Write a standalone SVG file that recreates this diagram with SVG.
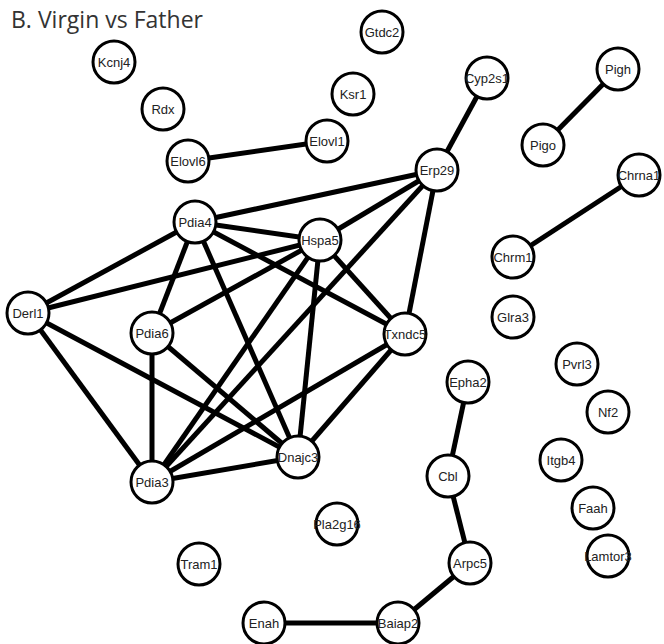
<svg xmlns="http://www.w3.org/2000/svg" width="664" height="644" viewBox="0 0 664 644">
<style>
.e{stroke:#000;stroke-width:5;fill:none;stroke-linecap:butt}
.n circle{fill:#fff;stroke:#000;stroke-width:3}
.n text{font-family:"Liberation Sans",Arial,sans-serif;font-size:13px;fill:#222;text-anchor:middle}
.t{font-family:"Open Sans","Liberation Sans",sans-serif;font-size:24px;fill:#333}
</style>
<rect width="664" height="644" fill="#fff"/>
<text class="t" x="11" y="28" textLength="192" lengthAdjust="spacingAndGlyphs">B. Virgin vs Father</text>
<g id="edges">
<line class="e" x1="188" y1="161" x2="327" y2="141"/>
<line class="e" x1="437" y1="170" x2="487" y2="78"/>
<line class="e" x1="543" y1="145" x2="618" y2="69"/>
<line class="e" x1="513" y1="257" x2="639" y2="175"/>
<line class="e" x1="468" y1="382" x2="448" y2="476"/>
<line class="e" x1="448" y1="476" x2="470" y2="563"/>
<line class="e" x1="470" y1="563" x2="398" y2="623"/>
<line class="e" x1="264" y1="623" x2="398" y2="623"/>
<line class="e" x1="195" y1="222" x2="437" y2="170"/>
<line class="e" x1="195" y1="222" x2="320" y2="240"/>
<line class="e" x1="195" y1="222" x2="28" y2="313"/>
<line class="e" x1="195" y1="222" x2="152" y2="333"/>
<line class="e" x1="195" y1="222" x2="405" y2="334"/>
<line class="e" x1="195" y1="222" x2="298" y2="457"/>
<line class="e" x1="320" y1="240" x2="437" y2="170"/>
<line class="e" x1="320" y1="240" x2="28" y2="313"/>
<line class="e" x1="320" y1="240" x2="152" y2="333"/>
<line class="e" x1="320" y1="240" x2="405" y2="334"/>
<line class="e" x1="320" y1="240" x2="152" y2="482"/>
<line class="e" x1="320" y1="240" x2="298" y2="457"/>
<line class="e" x1="437" y1="170" x2="405" y2="334"/>
<line class="e" x1="437" y1="170" x2="152" y2="482"/>
<line class="e" x1="28" y1="313" x2="152" y2="482"/>
<line class="e" x1="28" y1="313" x2="298" y2="457"/>
<line class="e" x1="152" y1="333" x2="152" y2="482"/>
<line class="e" x1="152" y1="333" x2="298" y2="457"/>
<line class="e" x1="405" y1="334" x2="152" y2="482"/>
<line class="e" x1="405" y1="334" x2="298" y2="457"/>
<line class="e" x1="152" y1="482" x2="298" y2="457"/>
</g>
<g id="Kcnj4" class="n"><circle cx="114" cy="62" r="21"/><text x="114" y="66.5">Kcnj4</text></g>
<g id="Rdx" class="n"><circle cx="163" cy="109" r="21"/><text x="163" y="113.5">Rdx</text></g>
<g id="Elovl6" class="n"><circle cx="188" cy="161" r="21"/><text x="188" y="165.5">Elovl6</text></g>
<g id="Gtdc2" class="n"><circle cx="382" cy="32" r="21"/><text x="382" y="36.5">Gtdc2</text></g>
<g id="Ksr1" class="n"><circle cx="353" cy="94" r="21"/><text x="353" y="98.5">Ksr1</text></g>
<g id="Elovl1" class="n"><circle cx="327" cy="141" r="21"/><text x="327" y="145.5">Elovl1</text></g>
<g id="Cyp2s1" class="n"><circle cx="487" cy="78" r="21"/><text x="487" y="82.5">Cyp2s1</text></g>
<g id="Pigh" class="n"><circle cx="618" cy="69" r="21"/><text x="618" y="73.5">Pigh</text></g>
<g id="Pigo" class="n"><circle cx="543" cy="145" r="21"/><text x="543" y="149.5">Pigo</text></g>
<g id="Chrna1" class="n"><circle cx="639" cy="175" r="21"/><text x="639" y="179.5">Chrna1</text></g>
<g id="Erp29" class="n"><circle cx="437" cy="170" r="21"/><text x="437" y="174.5">Erp29</text></g>
<g id="Pdia4" class="n"><circle cx="195" cy="222" r="21"/><text x="195" y="226.5">Pdia4</text></g>
<g id="Hspa5" class="n"><circle cx="320" cy="240" r="21"/><text x="320" y="244.5">Hspa5</text></g>
<g id="Chrm1" class="n"><circle cx="513" cy="257" r="21"/><text x="513" y="261.5">Chrm1</text></g>
<g id="Derl1" class="n"><circle cx="28" cy="313" r="21"/><text x="28" y="317.5">Derl1</text></g>
<g id="Pdia6" class="n"><circle cx="152" cy="333" r="21"/><text x="152" y="337.5">Pdia6</text></g>
<g id="Txndc5" class="n"><circle cx="405" cy="334" r="21"/><text x="405" y="338.5">Txndc5</text></g>
<g id="Glra3" class="n"><circle cx="513" cy="317" r="21"/><text x="513" y="321.5">Glra3</text></g>
<g id="Pvrl3" class="n"><circle cx="577" cy="364" r="21"/><text x="577" y="368.5">Pvrl3</text></g>
<g id="Epha2" class="n"><circle cx="468" cy="382" r="21"/><text x="468" y="386.5">Epha2</text></g>
<g id="Nf2" class="n"><circle cx="608" cy="412" r="21"/><text x="608" y="416.5">Nf2</text></g>
<g id="Dnajc3" class="n"><circle cx="298" cy="457" r="21"/><text x="298" y="461.5">Dnajc3</text></g>
<g id="Itgb4" class="n"><circle cx="561" cy="460" r="21"/><text x="561" y="464.5">Itgb4</text></g>
<g id="Cbl" class="n"><circle cx="448" cy="476" r="21"/><text x="448" y="480.5">Cbl</text></g>
<g id="Pdia3" class="n"><circle cx="152" cy="482" r="21"/><text x="152" y="486.5">Pdia3</text></g>
<g id="Faah" class="n"><circle cx="593" cy="508" r="21"/><text x="593" y="512.5">Faah</text></g>
<g id="Pla2g16" class="n"><circle cx="337" cy="524" r="21"/><text x="337" y="528.5">Pla2g16</text></g>
<g id="Lamtor3" class="n"><circle cx="608" cy="556" r="21"/><text x="608" y="560.5">Lamtor3</text></g>
<g id="Arpc5" class="n"><circle cx="470" cy="563" r="21"/><text x="470" y="567.5">Arpc5</text></g>
<g id="Tram1" class="n"><circle cx="199" cy="564" r="21"/><text x="199" y="568.5">Tram1</text></g>
<g id="Enah" class="n"><circle cx="264" cy="623" r="21"/><text x="264" y="627.5">Enah</text></g>
<g id="Baiap2" class="n"><circle cx="398" cy="623" r="21"/><text x="398" y="627.5">Baiap2</text></g>
</svg>
